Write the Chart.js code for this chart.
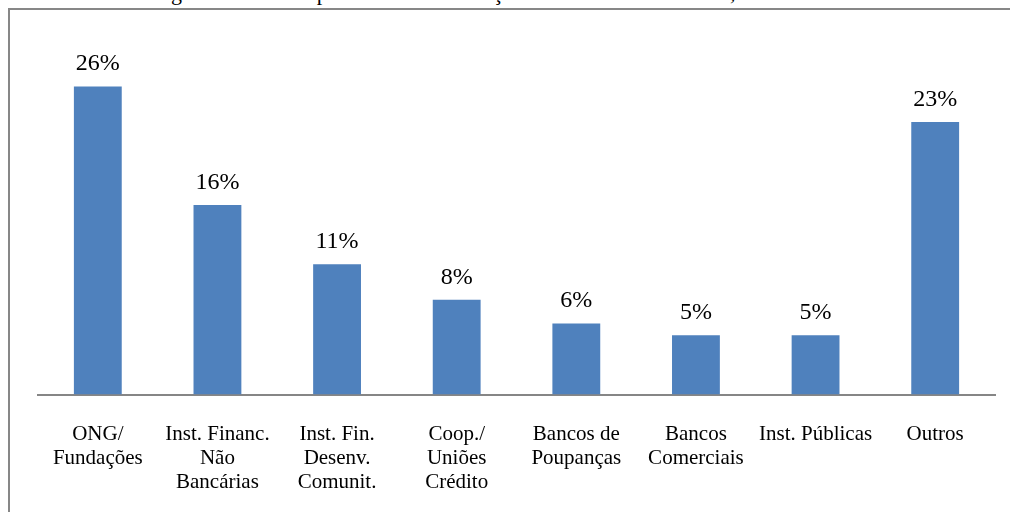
<!DOCTYPE html>
<html>
<head>
<meta charset="utf-8">
<script src="https://cdn.jsdelivr.net/npm/chart.js@4/dist/chart.umd.min.js"></script>
<style>
  html, body { margin: 0; padding: 0; background: #fff; overflow: hidden; width: 1010px; height: 512px; }
  #frame { position: absolute; left: 8px; top: 8px; width: 1100px; height: 600px; border-top: 2px solid #878787; border-left: 2px solid #878787; }
  #title { position: absolute; left: 20px; top: -18px; width: 990px; text-align: center; font: 22px/22px "Liberation Serif", serif; word-spacing: 30px; color: #000; white-space: nowrap; }
  #c { position: absolute; left: 0; top: 0; }
</style>
</head>
<body>
<div id="title">Figura 3: Tipo de Instituição de Microcrédito, em 2006</div>
<div id="frame"></div>
<canvas id="c" width="1010" height="523"></canvas>
<script>
// dados
const categorias = [
  ['ONG/', 'Fundações'],
  ['Inst. Financ.', 'Não', 'Bancárias'],
  ['Inst. Fin.', 'Desenv.', 'Comunit.'],
  ['Coop./', 'Uniões', 'Crédito'],
  ['Bancos de', 'Poupanças'],
  ['Bancos', 'Comerciais'],
  'Inst. Públicas',
  'Outros'
];
const percentuais = [26, 16, 11, 8, 6, 5, 5, 23];
const rotulos = percentuais.map(v => v + '%');

const serif = '"Liberation Serif", "Times New Roman", serif';

// rótulos em cima das barras
const rotulosBarras = {
  id: 'rotulosBarras',
  afterDatasetsDraw(chart) {
    const c = chart.ctx;
    const meta = chart.getDatasetMeta(0);
    c.save();
    c.font = '24px ' + serif;
    c.fillStyle = '#000';
    c.textAlign = 'center';
    c.textBaseline = 'alphabetic';
    meta.data.forEach((bar, i) => {
      c.fillText(rotulos[i], bar.x, bar.y - 16);
    });
    c.restore();
  }
};

const ctx = document.getElementById('c').getContext('2d');
new Chart(ctx, {
  type: 'bar',
  data: {
    labels: categorias,
    datasets: [{
      data: percentuais,
      backgroundColor: '#4F81BD',
      borderWidth: 0,
      barPercentage: 0.4,
      categoryPercentage: 1
    }]
  },
  options: {
    responsive: false,
    animation: false,
    devicePixelRatio: 1,
    layout: { padding: { left: 38, right: 15, top: 39, bottom: 0 } },
    plugins: { legend: { display: false }, tooltip: { enabled: false } },
    scales: {
      x: {
        grid: { display: false, drawTicks: false },
        border: { display: true, color: '#868686', width: 2 },
        ticks: {
          color: '#000',
          font: { family: serif, size: 21, lineHeight: 1.15 },
          padding: 28,
          maxRotation: 0,
          autoSkip: false
        }
      },
      y: {
        display: false,
        min: 0,
        max: 30
      }
    }
  },
  plugins: [rotulosBarras]
});
</script>
</body>
</html>
